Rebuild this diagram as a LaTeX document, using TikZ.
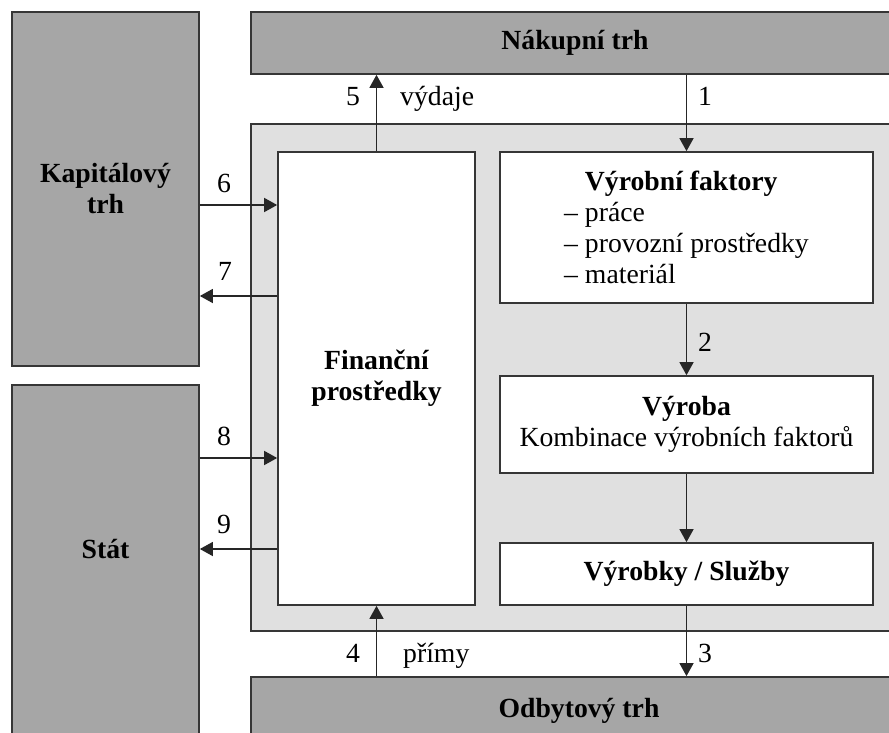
\documentclass[tikz,border=0pt]{standalone}
\usepackage{fontspec}
\setmainfont{Liberation Serif}
\usetikzlibrary{arrows.meta}
\definecolor{marketgray}{HTML}{A6A6A6}
\definecolor{firmgray}{HTML}{E0E0E0}
\definecolor{edgegray}{HTML}{363636}
\begin{document}
\begin{tikzpicture}[x=1pt,y=-1pt,
  txt/.style={font=\fontsize{27.7}{31}\selectfont, text=black},
  box/.style={draw=edgegray, line width=1.7pt, rectangle, inner sep=0pt, txt, align=center},
  marketbox/.style={box, fill=marketgray, font=\fontsize{27.7}{31}\selectfont\bfseries},
  innerbox/.style={box, fill=white},
  flow/.style={draw=black!85, line width=1.5pt, -{Triangle[length=13pt,width=14pt]}},
  num/.style={txt, anchor=base, inner sep=0pt}]

\useasboundingbox (0,0) rectangle (889,733);
\clip (0,0) rectangle (889,733);

% the firm (light panel)
\node[box, fill=firmgray, minimum width=654pt, minimum height=507pt] (firm) at (578,377.5) {};

% markets and state
\node[marketbox, minimum width=187pt, minimum height=354pt] (kap) at (105.5,189) {Kapitálový\\trh};
\node[marketbox, minimum width=187pt, minimum height=375pt] (stat) at (105.5,572.5) {};
\node[num, font=\fontsize{27.7}{31}\selectfont\bfseries] (statlbl) at (105.5,558) {Stát};
\node[marketbox, minimum width=648pt, minimum height=62pt] (nak) at (575,43) {Nákupní trh};
\node[marketbox, minimum width=656pt, minimum height=67pt] (odb) at (579,710.5) {Odbytový trh};

% inner blocks
\node[innerbox, minimum width=197pt, minimum height=453pt, font=\fontsize{27.7}{31}\selectfont\bfseries] (fin) at (376.5,378.5) {Finanční\\prostředky};
\node[innerbox, minimum width=373pt, minimum height=151pt, align=left] (vf) at (686.5,227.5)
  {\hphantom{– }\textbf{Výrobní faktory}\\– práce\\– provozní prostředky\hspace*{10pt}\\– materiál};
\node[innerbox, minimum width=373pt, minimum height=97pt, font=\fontsize{27.7}{31.5}\selectfont] (vyroba) at (686.5,424.5)
  {\textbf{Výroba}\\Kombinace výrobních faktorů};
\node[innerbox, minimum width=373pt, minimum height=62pt, font=\fontsize{27.7}{31}\selectfont\bfseries] (vyrobky) at (686.5,574) {Výrobky / Služby};

% levels of the side flows
\coordinate (l6) at (0,205);
\coordinate (l7) at (0,296);
\coordinate (l8) at (0,458);
\coordinate (l9) at (0,549);

% flows
\draw[flow] (nak.south -| vf.north) -- (vf.north);
\draw[flow] (vf.south) -- (vyroba.north);
\draw[flow] (vyroba.south) -- (vyrobky.north);
\draw[flow] (vyrobky.south) -- (odb.north -| vyrobky.south);
\draw[flow] (fin.north) -- (nak.south -| fin.north);
\draw[flow] (odb.north -| fin.south) -- (fin.south);
\draw[flow] (kap.east |- l6) -- (fin.west |- l6);
\draw[flow] (fin.west |- l7) -- (kap.east |- l7);
\draw[flow] (stat.east |- l8) -- (fin.west |- l8);
\draw[flow] (fin.west |- l9) -- (stat.east |- l9);

% flow labels
\node[num] (n5) at (353,106) {5};
\node[num, anchor=base west] (vydaje) at (400,106) {výdaje};
\node[num] (n1) at (705,106) {1};
\node[num] (n2) at (705,351) {2};
\node[num] (n3) at (705,662) {3};
\node[num] (n4) at (353,662) {4};
\node[num, anchor=base west] (primy) at (403,662) {přímy};
\node[num] (n6) at (224,193) {6};
\node[num] (n7) at (225,280) {7};
\node[num] (n8) at (224,445) {8};
\node[num] (n9) at (224,533) {9};
\end{tikzpicture}
\end{document}
